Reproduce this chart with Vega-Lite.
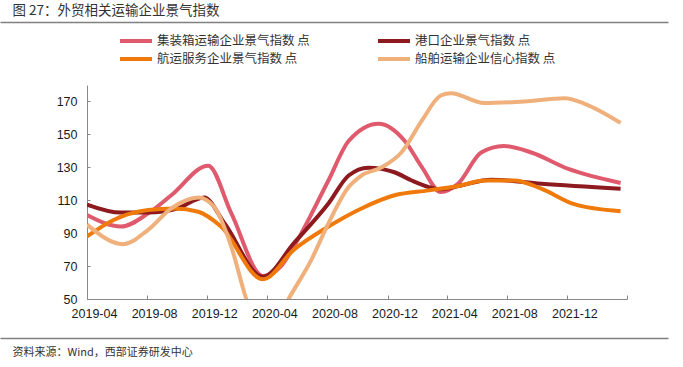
{
  "$schema": "https://vega.github.io/schema/vega-lite/v6.json",
  "width": 540,
  "height": 214,
  "autosize": "none",
  "padding": {"left": 87, "top": 85, "right": 56, "bottom": 68},
  "background": "white",
  "config": {"view": {"stroke": null}, "font": "Liberation Sans"},
  "data": {
    "values": [
      {"date": "2019-04-01", "series": "集装箱运输企业景气指数 点", "value": 101},
      {"date": "2019-06-09", "series": "集装箱运输企业景气指数 点", "value": 94},
      {"date": "2019-08-03", "series": "集装箱运输企业景气指数 点", "value": 102},
      {"date": "2019-09-19", "series": "集装箱运输企业景气指数 点", "value": 113},
      {"date": "2019-12-03", "series": "集装箱运输企业景气指数 点", "value": 131},
      {"date": "2020-01-19", "series": "集装箱运输企业景气指数 点", "value": 102},
      {"date": "2020-03-23", "series": "集装箱运输企业景气指数 点", "value": 64},
      {"date": "2020-04-29", "series": "集装箱运输企业景气指数 点", "value": 70},
      {"date": "2020-05-25", "series": "集装箱运输企业景气指数 点", "value": 82},
      {"date": "2020-08-03", "series": "集装箱运输企业景气指数 点", "value": 122},
      {"date": "2020-09-13", "series": "集装箱运输企业景气指数 点", "value": 146},
      {"date": "2020-11-13", "series": "集装箱运输企业景气指数 点", "value": 156.5},
      {"date": "2021-01-05", "series": "集装箱运输企业景气指数 点", "value": 146},
      {"date": "2021-02-09", "series": "集装箱运输企业景气指数 点", "value": 130},
      {"date": "2021-03-19", "series": "集装箱运输企业景气指数 点", "value": 115},
      {"date": "2021-04-23", "series": "集装箱运输企业景气指数 点", "value": 120},
      {"date": "2021-06-09", "series": "集装箱运输企业景气指数 点", "value": 139},
      {"date": "2021-07-25", "series": "集装箱运输企业景气指数 点", "value": 143},
      {"date": "2021-09-19", "series": "集装箱运输企业景气指数 点", "value": 139},
      {"date": "2021-12-03", "series": "集装箱运输企业景气指数 点", "value": 129},
      {"date": "2022-03-19", "series": "集装箱运输企业景气指数 点", "value": 120.5},

      {"date": "2019-04-01", "series": "港口企业景气指数 点", "value": 107.4},
      {"date": "2019-06-09", "series": "港口企业景气指数 点", "value": 102.5},
      {"date": "2019-08-03", "series": "港口企业景气指数 点", "value": 102.6},
      {"date": "2019-10-01", "series": "港口企业景气指数 点", "value": 105},
      {"date": "2019-11-25", "series": "港口企业景气指数 点", "value": 111.6},
      {"date": "2020-01-05", "series": "港口企业景气指数 点", "value": 96},
      {"date": "2020-03-23", "series": "港口企业景气指数 点", "value": 63.5},
      {"date": "2020-05-25", "series": "港口企业景气指数 点", "value": 84},
      {"date": "2020-08-03", "series": "港口企业景气指数 点", "value": 108},
      {"date": "2020-09-13", "series": "港口企业景气指数 点", "value": 125},
      {"date": "2020-10-23", "series": "港口企业景气指数 点", "value": 129.8},
      {"date": "2020-12-15", "series": "港口企业景气指数 点", "value": 127},
      {"date": "2021-01-19", "series": "港口企业景气指数 点", "value": 122},
      {"date": "2021-02-23", "series": "港口企业景气指数 点", "value": 118},
      {"date": "2021-03-19", "series": "港口企业景气指数 点", "value": 116.6},
      {"date": "2021-04-29", "series": "港口企业景气指数 点", "value": 119},
      {"date": "2021-06-29", "series": "港口企业景气指数 点", "value": 122.5},
      {"date": "2021-10-09", "series": "港口企业景气指数 点", "value": 120},
      {"date": "2022-03-19", "series": "港口企业景气指数 点", "value": 117},

      {"date": "2019-04-01", "series": "航运服务企业景气指数 点", "value": 88},
      {"date": "2019-05-25", "series": "航运服务企业景气指数 点", "value": 98},
      {"date": "2019-08-03", "series": "航运服务企业景气指数 点", "value": 104},
      {"date": "2019-09-25", "series": "航运服务企业景气指数 点", "value": 105},
      {"date": "2019-11-13", "series": "航运服务企业景气指数 点", "value": 103},
      {"date": "2019-12-29", "series": "航运服务企业景气指数 点", "value": 94},
      {"date": "2020-03-23", "series": "航运服务企业景气指数 点", "value": 62},
      {"date": "2020-05-25", "series": "航运服务企业景气指数 点", "value": 80},
      {"date": "2020-08-03", "series": "航运服务企业景气指数 点", "value": 94},
      {"date": "2020-10-09", "series": "航运服务企业景气指数 点", "value": 105},
      {"date": "2020-12-15", "series": "航运服务企业景气指数 点", "value": 113},
      {"date": "2021-02-23", "series": "航运服务企业景气指数 点", "value": 116},
      {"date": "2021-04-29", "series": "航运服务企业景气指数 点", "value": 119},
      {"date": "2021-06-15", "series": "航运服务企业景气指数 点", "value": 122},
      {"date": "2021-08-15", "series": "航运服务企业景气指数 点", "value": 122},
      {"date": "2021-10-09", "series": "航运服务企业景气指数 点", "value": 117},
      {"date": "2021-12-15", "series": "航运服务企业景气指数 点", "value": 107.6},
      {"date": "2022-03-19", "series": "航运服务企业景气指数 点", "value": 103.3},

      {"date": "2019-04-01", "series": "船舶运输企业信心指数 点", "value": 95.2},
      {"date": "2019-06-13", "series": "船舶运输企业信心指数 点", "value": 83.3},
      {"date": "2019-08-03", "series": "船舶运输企业信心指数 点", "value": 92},
      {"date": "2019-09-19", "series": "船舶运输企业信心指数 点", "value": 105},
      {"date": "2019-11-13", "series": "船舶运输企业信心指数 点", "value": 111.6},
      {"date": "2019-12-15", "series": "船舶运输企业信心指数 点", "value": 106},
      {"date": "2020-01-19", "series": "船舶运输企业信心指数 点", "value": 81.7},
      {"date": "2020-02-19", "series": "船舶运输企业信心指数 点", "value": 49.4},
      {"date": "2020-04-01", "series": "船舶运输企业信心指数 点", "value": 25},
      {"date": "2020-05-13", "series": "船舶运输企业信心指数 点", "value": 49.4},
      {"date": "2020-06-29", "series": "船舶运输企业信心指数 点", "value": 73.6},
      {"date": "2020-08-03", "series": "船舶运输企业信心指数 点", "value": 96},
      {"date": "2020-09-13", "series": "船舶运输企业信心指数 点", "value": 118},
      {"date": "2020-10-09", "series": "船舶运输企业信心指数 点", "value": 125},
      {"date": "2020-11-19", "series": "船舶运输企业信心指数 点", "value": 130},
      {"date": "2020-12-29", "series": "船舶运输企业信心指数 点", "value": 139},
      {"date": "2021-02-09", "series": "船舶运输企业信心指数 点", "value": 158.5},
      {"date": "2021-03-19", "series": "船舶运输企业信心指数 点", "value": 173.6},
      {"date": "2021-04-09", "series": "船舶运输企业信心指数 点", "value": 175},
      {"date": "2021-06-15", "series": "船舶运输企业信心指数 点", "value": 169},
      {"date": "2021-09-05", "series": "船舶运输企业信心指数 点", "value": 170},
      {"date": "2021-11-25", "series": "船舶运输企业信心指数 点", "value": 172},
      {"date": "2022-01-05", "series": "船舶运输企业信心指数 点", "value": 168.6},
      {"date": "2022-03-19", "series": "船舶运输企业信心指数 点", "value": 157}
    ]
  },
  "layer": [
    {
      "mark": {"type": "line", "interpolate": "monotone", "strokeWidth": 4, "clip": true},
      "encoding": {
        "x": {
          "field": "date",
          "type": "temporal",
          "scale": {
            "type": "utc",
            "domain": [
              {"year": 2019, "month": 4, "date": 1, "utc": true},
              {"year": 2022, "month": 4, "date": 1, "utc": true}
            ]
          },
          "axis": {
            "title": null,
            "values": [
              {"year": 2019, "month": 4, "date": 1, "utc": true},
              {"year": 2019, "month": 8, "date": 1, "utc": true},
              {"year": 2019, "month": 12, "date": 1, "utc": true},
              {"year": 2020, "month": 4, "date": 1, "utc": true},
              {"year": 2020, "month": 8, "date": 1, "utc": true},
              {"year": 2020, "month": 12, "date": 1, "utc": true},
              {"year": 2021, "month": 4, "date": 1, "utc": true},
              {"year": 2021, "month": 8, "date": 1, "utc": true},
              {"year": 2021, "month": 12, "date": 1, "utc": true},
              {"year": 2022, "month": 4, "date": 1, "utc": true}
            ],
            "labelExpr": "utcFormat(datum.value, '%Y') == '2022' ? '' : utcFormat(datum.value, '%Y-%m')",
            "tickSize": -4,
            "tickColor": "#888888",
            "domainColor": "#888888",
            "labelOffset": 7,
            "labelPadding": 12,
            "labelFontSize": 12.5,
            "labelColor": "#1a1a1a",
            "grid": false,
            "labelOverlap": false,
            "labelFlush": false,
            "labelBound": false
          }
        },
        "y": {
          "field": "value",
          "type": "quantitative",
          "scale": {"domain": [50, 180], "nice": false, "zero": false},
          "axis": {
            "title": null,
            "values": [50, 70, 90, 110, 130, 150, 170],
            "tickSize": -3,
            "tickColor": "#888888",
            "domainColor": "#888888",
            "labelPadding": 13,
            "labelFontSize": 12.5,
            "labelColor": "#1a1a1a",
            "grid": false
          }
        },
        "color": {
          "field": "series",
          "type": "nominal",
          "scale": {
            "domain": ["集装箱运输企业景气指数 点", "航运服务企业景气指数 点", "港口企业景气指数 点", "船舶运输企业信心指数 点"],
            "range": ["#E05A6D", "#EF7A0B", "#8C1A1E", "#F0B07C"]
          },
          "legend": {
            "title": null,
            "orient": "none",
            "legendX": 31,
            "legendY": -54,
            "columns": 2,
            "columnPadding": 60,
            "rowPadding": -1,
            "padding": 0,
            "symbolType": "M-1,0H3",
            "symbolSize": 256,
            "symbolStrokeWidth": 4,
            "labelFont": "Noto Sans CJK SC",
            "labelFontSize": 12.5,
            "labelColor": "#333333",
            "labelOffset": 19,
            "labelLimit": 300
          }
        }
      }
    },
    {
      "mark": {"type": "point", "opacity": 0},
      "encoding": {
        "x": {
          "field": "date",
          "type": "temporal",
          "scale": {"type": "utc", "range": [-87, 581]},
          "axis": {
            "orient": "top",
            "offset": 63,
            "ticks": false,
            "labels": false,
            "grid": false,
            "domainColor": "#808080",
            "domainWidth": 1.5,
            "title": "图 27：外贸相关运输企业景气指数",
            "titleAnchor": "start",
            "titleAlign": "left",
            "titleX": -75,
            "titleY": -8,
            "titleBaseline": "alphabetic",
            "titleFont": "Noto Sans CJK SC",
            "titleFontSize": 13.5,
            "titleFontWeight": "normal",
            "titleColor": "#333333"
          }
        }
      }
    },
    {
      "mark": {"type": "point", "opacity": 0},
      "encoding": {
        "x": {
          "field": "date",
          "type": "temporal",
          "scale": {"type": "utc", "range": [-87, 581]},
          "axis": {
            "orient": "bottom",
            "offset": 39,
            "ticks": false,
            "labels": false,
            "grid": false,
            "domainColor": "#808080",
            "domainWidth": 1.5,
            "title": "资料来源：Wind，西部证券研发中心",
            "titleAnchor": "start",
            "titleAlign": "left",
            "titleX": -75,
            "titleY": 17,
            "titleBaseline": "alphabetic",
            "titleFont": "Noto Sans CJK SC",
            "titleFontSize": 11,
            "titleFontWeight": "normal",
            "titleColor": "#333333"
          }
        }
      }
    }
  ],
  "resolve": {"scale": {"x": "independent"}, "axis": {"x": "independent"}}
}
